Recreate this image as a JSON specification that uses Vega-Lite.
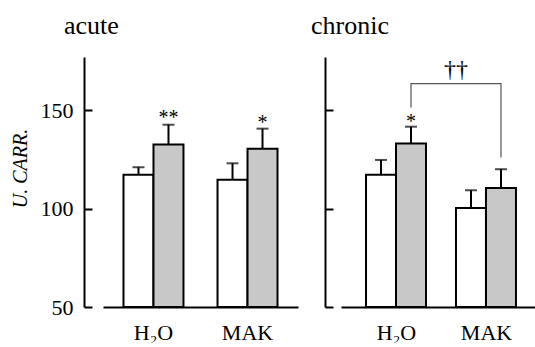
{
  "$schema": "https://vega.github.io/schema/vega-lite/v6.json",
  "background": "white",
  "padding": {"left": 10, "top": 13, "right": 0, "bottom": 0},
  "bounds": "flush",
  "spacing": 43,
  "config": {
    "font": "Liberation Serif",
    "view": {"stroke": null},
    "text": {"font": "Liberation Serif"},
    "title": {"font": "Liberation Serif", "fontSize": 26, "fontWeight": "normal", "color": "black", "anchor": "start", "frame": "group", "baseline": "alphabetic", "offset": 18},
    "axis": {"grid": false, "domainColor": "black", "domainWidth": 2, "tickColor": "black", "tickWidth": 2, "labelFont": "Liberation Serif", "labelColor": "black", "labelFontSize": 22, "titleFont": "Liberation Serif", "titleColor": "black"}
  },
  "datasets": {
    "acute_bars": [
      {"group": "H₂O", "treat": "ctrl", "value": 117.2, "upper": 121.0},
      {"group": "H₂O", "treat": "treat", "value": 132.5, "upper": 142.6},
      {"group": "MAK", "treat": "ctrl", "value": 114.7, "upper": 123.0},
      {"group": "MAK", "treat": "treat", "value": 130.4, "upper": 140.6}
    ],
    "chronic_bars": [
      {"group": "H₂O", "treat": "ctrl", "value": 117.2, "upper": 124.7},
      {"group": "H₂O", "treat": "treat", "value": 133.0, "upper": 141.6},
      {"group": "MAK", "treat": "ctrl", "value": 100.3, "upper": 109.3},
      {"group": "MAK", "treat": "treat", "value": 110.5, "upper": 120.0}
    ],
    "acute_stars": [
      {"group": "H₂O", "treat": "treat", "value": 143.0, "label": "**"},
      {"group": "MAK", "treat": "treat", "value": 140.5, "label": "*"}
    ],
    "chronic_stars": [
      {"group": "H₂O", "treat": "treat", "value": 141.0, "label": "*"}
    ],
    "chronic_dagger": [
      {"group": "MAK", "treat": "ctrl", "value": 167.0, "label": "††"}
    ],
    "chronic_bracket": [
      {"group": "H₂O", "treat": "treat", "value": 151.3, "ord": 1},
      {"group": "H₂O", "treat": "treat", "value": 163.5, "ord": 2},
      {"group": "MAK", "treat": "treat", "value": 163.5, "ord": 3},
      {"group": "MAK", "treat": "treat", "value": 125.9, "ord": 4}
    ]
  },
  "hconcat": [
    {
      "width": 195,
      "height": 250,
      "title": {"text": "acute", "dx": -39, "font": "Liberation Serif"},
      "encoding": {
        "x": {"field": "group", "type": "nominal", "sort": ["H₂O", "MAK"],
          "scale": {"paddingInner": 0.362, "paddingOuter": 0.218},
          "axis": {"title": null, "ticks": false, "labelAngle": 0, "labelPadding": 15, "labelFont": "Liberation Serif"}},
        "xOffset": {"field": "treat", "type": "nominal", "sort": ["ctrl", "treat"], "scale": {"paddingInner": 0, "paddingOuter": 0}},
        "y": {"field": "value", "type": "quantitative",
          "scale": {"domain": [50, 177], "nice": false, "zero": false},
          "axis": {"values": [50, 100, 150], "offset": 19, "tickSize": -8, "labelPadding": 19, "labelFont": "Liberation Serif",
            "title": "U. CARR.", "titleFont": "Liberation Serif", "titleFontSize": 20, "titleFontStyle": "italic", "titleFontWeight": "normal",
            "titleAngle": -90, "titleAlign": "center", "titleBaseline": "middle", "titleX": -64, "titleY": 111}}
      },
      "layer": [
        {"data": {"name": "acute_bars"},
         "mark": {"type": "rule", "color": "black", "strokeWidth": 2},
         "encoding": {"y2": {"field": "upper"}}},
        {"data": {"name": "acute_bars"},
         "mark": {"type": "bar", "stroke": "black", "strokeWidth": 2},
         "encoding": {"y2": {"datum": 50},
           "color": {"field": "treat", "type": "nominal", "scale": {"domain": ["ctrl", "treat"], "range": ["#ffffff", "#c8c8c8"]}, "legend": null}}},
        {"data": {"name": "acute_bars"},
         "mark": {"type": "tick", "color": "black", "thickness": 2, "size": 12},
         "encoding": {"y": {"field": "upper", "type": "quantitative"}}},
        {"data": {"name": "acute_stars"},
         "mark": {"type": "text", "font": "Liberation Serif", "fontSize": 20, "baseline": "alphabetic", "align": "center", "color": "black"},
         "encoding": {"text": {"field": "label"}}}
      ]
    },
    {
      "width": 201,
      "height": 250,
      "title": {"text": "chronic", "dx": -30, "font": "Liberation Serif"},
      "encoding": {
        "x": {"field": "group", "type": "nominal", "sort": ["H₂O", "MAK"],
          "scale": {"paddingInner": 0.322, "paddingOuter": 0.278},
          "axis": {"title": null, "ticks": false, "labelAngle": 0, "labelPadding": 15, "labelFont": "Liberation Serif"}},
        "xOffset": {"field": "treat", "type": "nominal", "sort": ["ctrl", "treat"], "scale": {"paddingInner": 0, "paddingOuter": 0}},
        "y": {"field": "value", "type": "quantitative",
          "scale": {"domain": [50, 177], "nice": false, "zero": false},
          "axis": {"values": [50, 100, 150], "offset": 16, "tickSize": -8, "labels": false, "title": null}}
      },
      "layer": [
        {"data": {"name": "chronic_bars"},
         "mark": {"type": "rule", "color": "black", "strokeWidth": 2},
         "encoding": {"y2": {"field": "upper"}}},
        {"data": {"name": "chronic_bars"},
         "mark": {"type": "bar", "stroke": "black", "strokeWidth": 2},
         "encoding": {"y2": {"datum": 50},
           "color": {"field": "treat", "type": "nominal", "scale": {"domain": ["ctrl", "treat"], "range": ["#ffffff", "#c8c8c8"]}, "legend": null}}},
        {"data": {"name": "chronic_bars"},
         "mark": {"type": "tick", "color": "black", "thickness": 2, "size": 12},
         "encoding": {"y": {"field": "upper", "type": "quantitative"}}},
        {"data": {"name": "chronic_stars"},
         "mark": {"type": "text", "font": "Liberation Serif", "fontSize": 20, "baseline": "alphabetic", "align": "center", "color": "black"},
         "encoding": {"text": {"field": "label"}}},
        {"data": {"name": "chronic_bracket"},
         "mark": {"type": "line", "color": "#555555", "strokeWidth": 1.2},
         "encoding": {"order": {"field": "ord", "type": "quantitative"}}},
        {"data": {"name": "chronic_dagger"},
         "mark": {"type": "text", "font": "Liberation Serif", "fontSize": 24, "baseline": "alphabetic", "align": "center", "color": "black", "dx": -15},
         "encoding": {"text": {"field": "label"}}}
      ]
    }
  ]
}
